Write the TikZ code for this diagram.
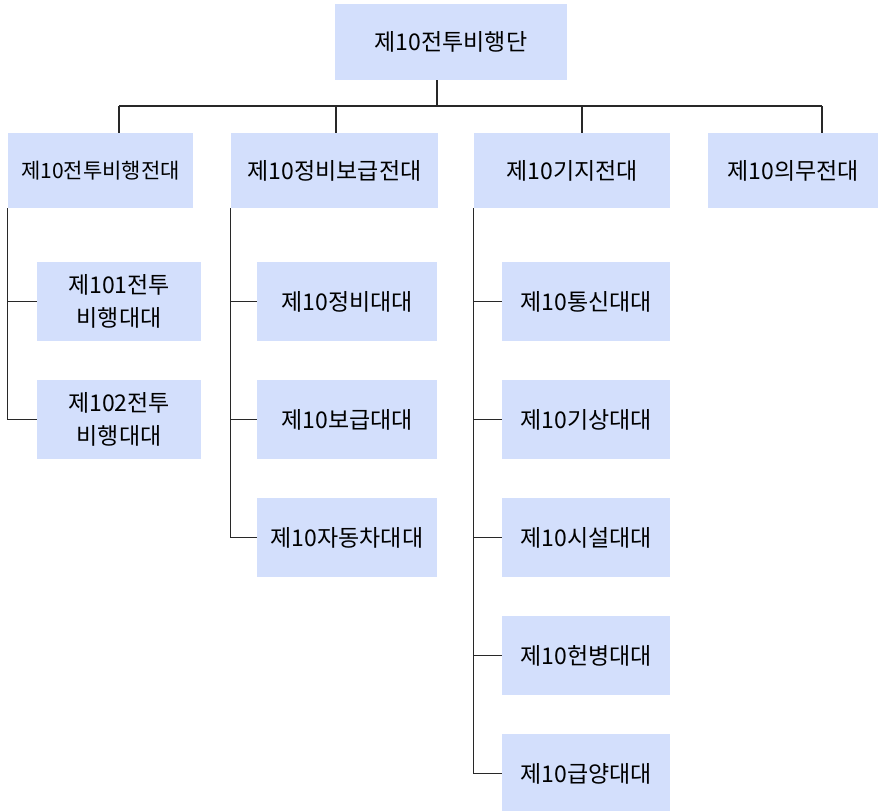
\documentclass[tikz,border=0pt]{standalone}
\usepackage{fontspec}
\newfontfamily\krfont{Noto Sans CJK KR}
\definecolor{boxblue}{RGB}{211,223,252}
\definecolor{linec}{RGB}{40,40,40}
\begin{document}
\begin{tikzpicture}[x=1pt,y=-1pt,
  box/.style={fill=boxblue,draw=none,inner sep=0pt,align=center,
    font=\krfont\fontsize{23}{33}\selectfont},
  conn/.style={draw=linec,line width=1.2pt}]
\useasboundingbox (0,0) rectangle (878,811);
\begin{scope}
\clip (0,0) rectangle (878,811);
% top
\node[box,minimum width=232pt,minimum height=76pt] (top) at (451,42) {제10전투비행단};
% level 2
\node[box,minimum width=185pt,minimum height=75pt,font=\krfont\fontsize{21}{30}\selectfont] (g1) at (100.5,170.5) {제10전투비행전대};
\node[box,minimum width=207pt,minimum height=75pt] (g2) at (334.5,170.5) {제10정비보급전대};
\node[box,minimum width=196pt,minimum height=75pt] (g3) at (572,170.5) {제10기지전대};
\node[box,minimum width=170pt,minimum height=75pt] (g4) at (793,170.5) {제10의무전대};
% level 3 under g1
\node[box,minimum width=164pt,minimum height=79pt] (c11) at (119,301.5) {제101전투\\비행대대};
\node[box,minimum width=164pt,minimum height=79pt] (c12) at (119,419.5) {제102전투\\비행대대};
% under g2
\node[box,minimum width=180pt,minimum height=79pt] (c21) at (347,301.5) {제10정비대대};
\node[box,minimum width=180pt,minimum height=79pt] (c22) at (347,419.5) {제10보급대대};
\node[box,minimum width=180pt,minimum height=79pt] (c23) at (347,537.5) {제10자동차대대};
% under g3
\node[box,minimum width=168pt,minimum height=79pt] (c31) at (586,301.5) {제10통신대대};
\node[box,minimum width=168pt,minimum height=79pt] (c32) at (586,419.5) {제10기상대대};
\node[box,minimum width=168pt,minimum height=79pt] (c33) at (586,537.5) {제10시설대대};
\node[box,minimum width=168pt,minimum height=79pt] (c34) at (586,655.5) {제10헌병대대};
\node[box,minimum width=168pt,minimum height=79pt] (c35) at (586,773.5) {제10급양대대};
% bus
\coordinate (topout) at (437,80);
\coordinate (t1) at (119,106);
\coordinate (t2) at (336,106);
\coordinate (t3) at (582,106);
\coordinate (t4) at (822,106);
\draw[conn] (topout) -- (topout |- t1);
\draw[conn] (t1) -- (t4);
\draw[conn] (t1) -- (t1 |- g1.north);
\draw[conn] (t2) -- (t2 |- g2.north);
\draw[conn] (t3) -- (t3 |- g3.north);
\draw[conn] (t4) -- (t4 |- g4.north);
% children
\draw[conn] (g1.south west) |- (c11.west);
\draw[conn] (g1.south west) |- (c12.west);
\draw[conn] (g2.south west) |- (c21.west);
\draw[conn] (g2.south west) |- (c22.west);
\draw[conn] (g2.south west) |- (c23.west);
\draw[conn] (g3.south west) |- (c31.west);
\draw[conn] (g3.south west) |- (c32.west);
\draw[conn] (g3.south west) |- (c33.west);
\draw[conn] (g3.south west) |- (c34.west);
\draw[conn] (g3.south west) |- (c35.west);
\end{scope}
\end{tikzpicture}
\end{document}
